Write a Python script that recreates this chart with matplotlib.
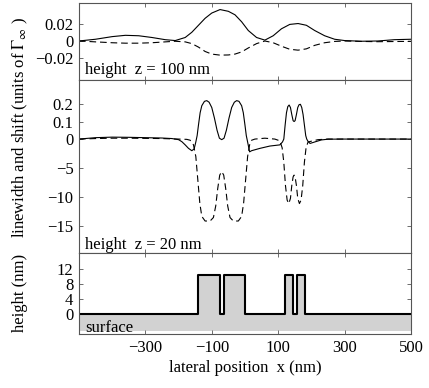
import numpy as np
import matplotlib
matplotlib.use('Agg')
import matplotlib.pyplot as plt

# --- data ---
# top panel, height z = 100 nm
top_x = [-500, -450, -400, -360, -320, -280, -240, -210, -180, -160, -140, -120, -100, -75,
         -50, -30, -10, 10, 35, 60, 85, 110, 135, 160, 185, 210, 240, 270, 300, 350, 400, 450, 500]
top_width = [0.0, 0.002, 0.005, 0.0065, 0.006, 0.004, 0.0015, 0.0005, 0.004, 0.010, 0.018, 0.026,
             0.032, 0.036, 0.034, 0.030, 0.022, 0.012, 0.004, 0.001, 0.006, 0.014, 0.019, 0.020,
             0.018, 0.012, 0.006, 0.002, 0.0005, -0.0003, 0.0, 0.0015, 0.002]
top_shift = [0.0, -0.001, -0.002, -0.0025, -0.0025, -0.002, -0.001, -0.0003, -0.001, -0.003,
             -0.007, -0.012, -0.015, -0.0162, -0.016, -0.015, -0.0125, -0.008, -0.003, 0.0,
             -0.002, -0.006, -0.0095, -0.0105, -0.009, -0.005, -0.002, -0.0005, 0.0, -0.0005,
             -0.0008, -0.0006, -0.0004]

# middle panel, height z = 20 nm (linewidth)
mid_x_width = [-500, -450, -400, -350, -300, -250, -220, -200, -190, -180, -170, -160, -153, -148,
               -144, -140, -135, -130, -122, -115, -108, -100, -92, -84, -77, -70, -63, -56, -48,
               -40, -32, -25, -18, -10, -5, 0, 4, 8, 14, 20, 45, 75, 105, 113, 117, 121, 125, 129,
               133, 137, 141, 145, 148, 151, 155, 159, 163, 167, 171, 175, 179, 183, 186, 190,
               196, 210, 230, 250, 300, 500]
mid_width = [0.0, 0.008, 0.011, 0.01, 0.008, 0.006, 0.003, -0.1, -0.45, -1.0, -1.6, -2.0, -1.7,
             -0.5, 0.02, 0.08, 0.15, 0.19, 0.215, 0.219, 0.21, 0.18, 0.12, 0.05, 0.005, -0.1,
             0.005, 0.05, 0.12, 0.18, 0.21, 0.219, 0.215, 0.19, 0.15, 0.08, 0.02, -0.5, -2.2,
             -2.0, -1.6, -1.2, -1.0, -0.5, 0.0, 0.08, 0.15, 0.185, 0.194, 0.18, 0.14, 0.105, 0.1,
             0.105, 0.14, 0.18, 0.196, 0.198, 0.18, 0.14, 0.08, 0.02, 0.0, -0.4, -0.75, -0.5,
             -0.15, -0.02, 0.0, 0.0]

# middle panel (shift)
mid_x_shift = [-500, -450, -400, -350, -300, -250, -200, -175, -165, -155, -148, -142, -136, -130,
               -120, -105, -95, -88, -82, -76, -70, -64, -58, -52, -45, -35, -20, -10, -4, 2, 8,
               14, 20, 30, 60, 90, 105, 112, 117, 122, 127, 132, 137, 141, 145, 148, 151, 155,
               159, 164, 169, 174, 179, 184, 190, 205, 220, 250, 500]
mid_shift = [0.0, 0.003, 0.005, 0.005, 0.004, 0.003, 0.0, -0.05, -0.2, -1.0, -3.0, -7.0, -11.0,
             -13.3, -14.1, -14.1, -13.5, -11.5, -8.5, -6.2, -5.6, -6.2, -8.5, -11.5, -13.5, -14.1,
             -14.1, -13.3, -11.0, -7.0, -3.0, -1.0, -0.2, 0.0, 0.005, 0.0, -0.3, -1.5, -4.0, -8.0,
             -10.5, -11.1, -10.2, -8.0, -6.5, -6.2, -6.5, -8.0, -10.2, -11.1, -10.5, -8.0, -4.0,
             -1.5, -0.5, -0.3, -0.1, 0.0, 0.0]

# surface profile: block edges (nm) and block height (nm)
blocks = [(-140, -76), (-64, 0), (120, 144), (156, 180)]
block_height = 10.5

x_ticks = [-300, -100, 100, 300, 500]

plt.rcParams['font.family'] = ['Liberation Serif', 'DejaVu Serif']
plt.rcParams['mathtext.fontset'] = 'stix'
plt.rcParams['font.size'] = 12

fig = plt.figure(figsize=(4.29, 3.88), dpi=100)
ax1 = fig.add_axes([0.184, 0.794, 0.774, 0.198])
ax2 = fig.add_axes([0.184, 0.348, 0.774, 0.446])
ax3 = fig.add_axes([0.184, 0.139, 0.774, 0.209])


def style(ax):
    for s in ax.spines.values():
        s.set_color('#555555')
        s.set_linewidth(0.8)
    ax.tick_params(direction='in', top=True, right=True, length=3, width=0.6,
                   color='#555555', labelsize=12, pad=4)
    ax.set_xlim(-500, 500)
    ax.set_xticks(x_ticks)


# top panel
ax1.plot(top_x, top_width, '-', color='k', lw=0.8)
ax1.plot(top_x, top_shift, '--', color='k', lw=0.8, dashes=(6, 3.5))
ax1.set_ylim(-0.0446, 0.0434)
ax1.set_yticks([0.02, 0, -0.02])
ax1.set_yticklabels(['0.02', '0', '\u22120.02'])
style(ax1)
ax1.tick_params(labelbottom=False)
ax1.text(0.018, 0.08, 'height  z = 100 nm', transform=ax1.transAxes, va='baseline')


# middle panel: negative values compressed
def fwd(y):
    y = np.asarray(y, dtype=float)
    return np.where(y >= 0, y, y / 30.2)


def inv(y):
    y = np.asarray(y, dtype=float)
    return np.where(y >= 0, y, y * 30.2)


ax2.set_yscale('function', functions=(fwd, inv))
ax2.plot(mid_x_width, mid_width, '-', color='k', lw=0.8)
ax2.plot(mid_x_shift, mid_shift, '--', color='k', lw=0.8, dashes=(6, 3.5))
ax2.set_ylim(-19.6, 0.337)
ax2.set_yticks([0.2, 0.1, 0, -5, -10, -15])
ax2.set_yticklabels(['0.2', '0.1', '0', '\u22125', '\u221210', '\u221215'])
ax2.minorticks_off()
style(ax2)
ax2.tick_params(labelbottom=False)
ax2.text(0.018, 0.025, 'height  z = 20 nm', transform=ax2.transAxes, va='baseline')

# bottom panel: surface profile
px = [-500]
ph = [0]
for a, b in blocks:
    px += [a, a, b, b]
    ph += [0, block_height, block_height, 0]
px.append(500)
ph.append(0)
ax3.fill_between(px, -4.5, ph, color='#d2d2d2', lw=0)
ax3.plot(px, ph, '-', color='k', lw=1.5)
ax3.set_ylim(-5.3, 16.3)
ax3.set_yticks([0, 4, 8, 12])
style(ax3)
ax3.set_xticklabels(['\u2212300', '\u2212100', '100', '300', '500'])
ax3.text(0.02, 0.03, 'surface', transform=ax3.transAxes, va='baseline')

fig.text(0.047, 0.673, r'linewidth and shift (units of $\Gamma_\infty$ )',
         rotation=90, ha='center', va='center')
fig.text(0.047, 0.245, 'height (nm)', rotation=90, ha='center', va='center')
fig.text(0.571, 1 - 372 / 388., 'lateral position  x (nm)', ha='center', va='baseline')

fig.savefig('out.png', dpi=100)
